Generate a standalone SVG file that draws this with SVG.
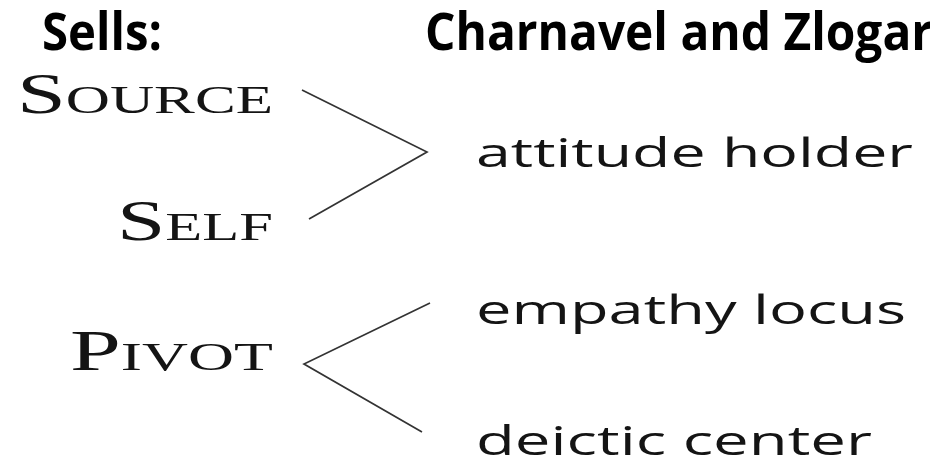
<svg xmlns="http://www.w3.org/2000/svg" width="930" height="461" viewBox="0 0 930 461">
  <style>
    .title { font-family: "Open Sans", "Liberation Sans", sans-serif; font-weight: bold; font-size: 52px; fill: #000; }
    .role { font-family: "Liberation Serif", "DejaVu Serif", serif; font-size: 56px; fill: #141414; }
    .role .sc { font-size: 39px; }
    .func { font-family: "Open Sans", "DejaVu Sans", sans-serif; font-size: 40px; fill: #141414; }
    .edge { fill: none; stroke: #333; stroke-width: 1.7; stroke-linejoin: miter; }
  </style>
  <rect width="930" height="461" fill="#fff"/>

  <!-- column headings -->
  <g id="heading-sells">
    <text class="title" x="42" y="50" textLength="120" lengthAdjust="spacingAndGlyphs">Sells:</text>
  </g>
  <g id="heading-cz">
    <text class="title" x="425" y="50" textLength="508" lengthAdjust="spacingAndGlyphs">Charnavel and Zlogar</text>
  </g>

  <!-- Sells' roles, set in small caps -->
  <g id="source">
    <text class="role" x="17" y="113" textLength="256" lengthAdjust="spacingAndGlyphs">S<tspan class="sc">OURCE</tspan></text>
  </g>
  <g id="self">
    <text class="role" x="117" y="240" textLength="156" lengthAdjust="spacingAndGlyphs">S<tspan class="sc">ELF</tspan></text>
  </g>
  <g id="pivot">
    <text class="role" x="70" y="370" textLength="203" lengthAdjust="spacingAndGlyphs">P<tspan class="sc">IVOT</tspan></text>
  </g>

  <!-- Charnavel and Zlogar's functions -->
  <g id="attitude-holder">
    <text class="func" x="476" y="167" textLength="437" lengthAdjust="spacingAndGlyphs">attitude holder</text>
  </g>
  <g id="empathy-locus">
    <text class="func" x="476" y="324" textLength="430" lengthAdjust="spacingAndGlyphs">empathy locus</text>
  </g>
  <g id="deictic-center">
    <text class="func" x="476" y="455" textLength="396" lengthAdjust="spacingAndGlyphs">deictic center</text>
  </g>

  <!-- connectors: merge and split brackets -->
  <g id="connectors">
    <polyline class="edge" points="302,90 427,152 309,219"/>
    <polyline class="edge" points="430,303 304,364 422,432"/>
  </g>
</svg>
